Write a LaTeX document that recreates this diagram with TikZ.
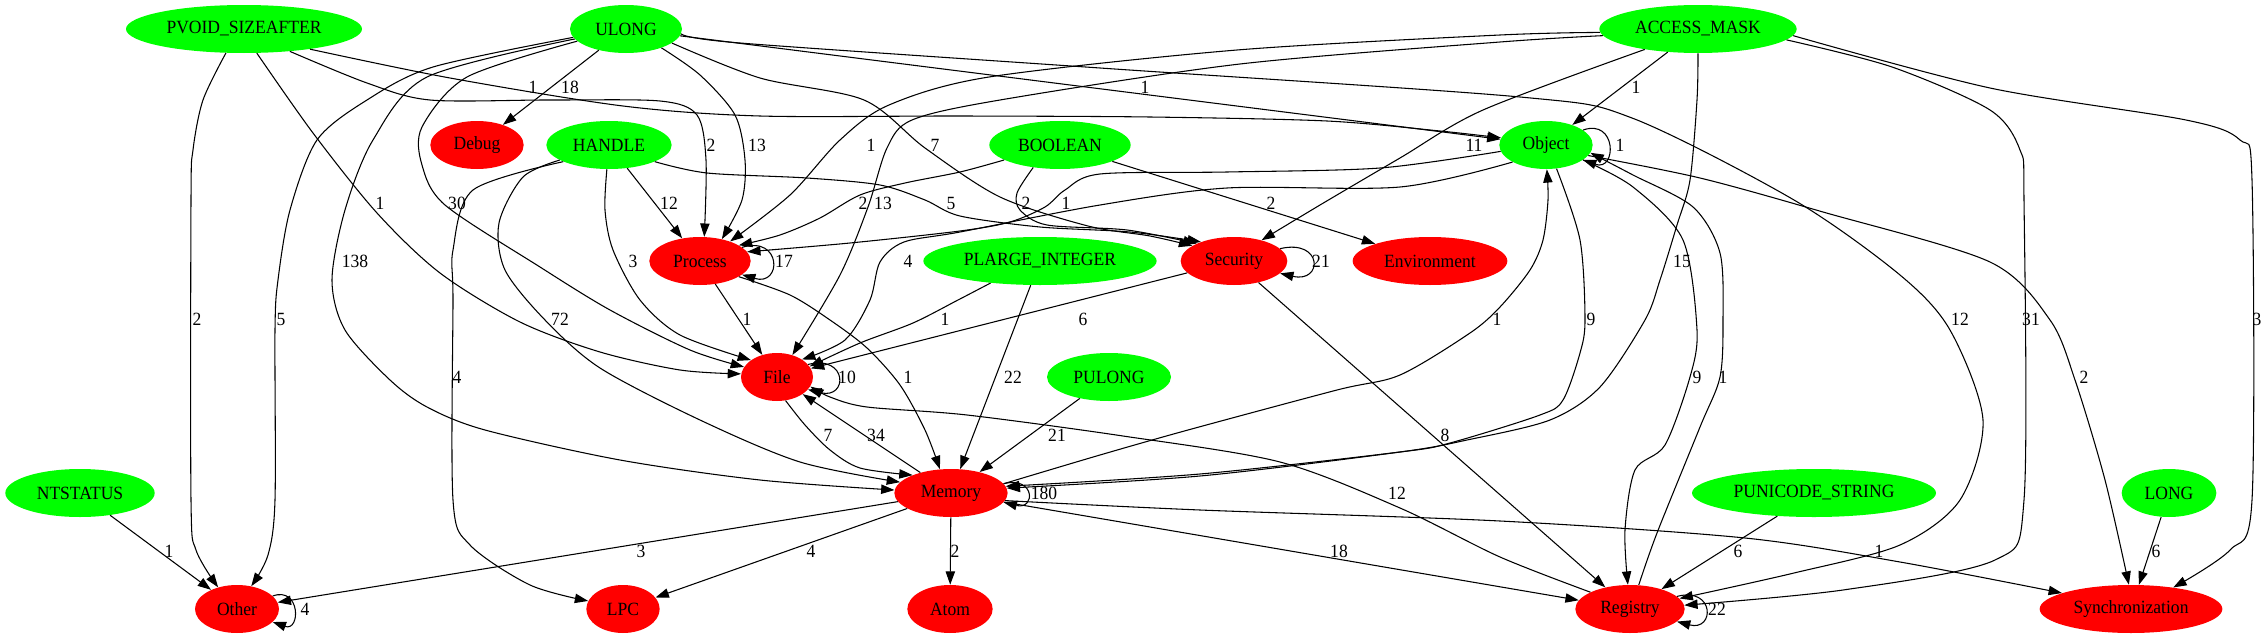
\documentclass[tikz,border=0pt]{standalone}
\usepackage{fontspec}
\setmainfont{Liberation Serif}[FakeStretch=0.94]
\usetikzlibrary{shapes.geometric, arrows.meta}

\begin{document}
\begin{tikzpicture}[x=0.75pt, y=-0.75pt,
    every node/.style={font=\fontsize{14}{16}\selectfont},
    typ/.style={ellipse, fill=green, inner sep=0pt, minimum height=36pt},
    cat/.style={ellipse, fill=red, inner sep=0pt, minimum height=36pt},
    link/.style={-{Triangle[length=10pt,width=7pt]}, line width=0.8pt},
    lbl/.style={inner sep=1pt}]
\useasboundingbox (0,0) rectangle (2268,639);

\node[typ, minimum width=177pt] (pv) at (244,29) {PVOID\_SIZEAFTER};
\node[typ, minimum width=84pt] (ulong) at (626,29) {ULONG};
\node[typ, minimum width=148pt] (am) at (1698,29) {ACCESS\_MASK};
\node[cat, minimum width=70pt] (debug) at (477,145) {Debug};
\node[typ, minimum width=94pt] (handle) at (609,145) {HANDLE};
\node[typ, minimum width=106pt] (boolean) at (1060,145) {BOOLEAN};
\node[typ, minimum width=70pt] (obj) at (1546,145) {Object};
\node[cat, minimum width=76pt] (process) at (700,261) {Process};
\node[typ, minimum width=175pt] (pli) at (1040,261) {PLARGE\_INTEGER};
\node[cat, minimum width=80pt] (security) at (1234,261) {Security};
\node[cat, minimum width=116pt] (env) at (1430,261) {Environment};
\node[cat, minimum width=54pt] (file) at (777,377) {File};
\node[typ, minimum width=93pt] (pulong) at (1109,377) {PULONG};
\node[typ, minimum width=112pt] (ntstatus) at (80,493) {NTSTATUS};
\node[cat, minimum width=85pt] (memory) at (951,493) {Memory};
\node[typ, minimum width=183pt] (punicode) at (1814,493) {PUNICODE\_STRING};
\node[typ, minimum width=71pt] (long) at (2169,493) {LONG};
\node[cat, minimum width=63pt] (other) at (237,609) {Other};
\node[cat, minimum width=55pt] (lpc) at (623,609) {LPC};
\node[cat, minimum width=64pt] (atom) at (950,609) {Atom};
\node[cat, minimum width=82pt] (registry) at (1630,609) {Registry};
\node[cat, minimum width=137pt] (sync) at (2131,609) {Synchronization};

\draw[link] plot[smooth] coordinates {(pv.-127) (203,100) (193,150) (191,200) (191,500) (196,550) (other.131)};
\draw[link] plot[smooth] coordinates {(pv.-62) (313,133) (377,213) (440,273) (520,322) (600,352) (680,370) (file.175)};
\draw[link] plot[smooth] coordinates {(pv.-26) (367,83) (430,100) (550,100) (660,101) (697,115) (706,160) (process.80)};
\draw[link] plot[smooth] coordinates {(pv.-17) (450,78) (623,106) (760,116) (960,116) (1150,117) (1327,121) (1440,131) (obj.171)};
\draw[link] (ulong) -- (debug);
\draw[link] plot[smooth] coordinates {(ulong.-171) (433,67) (367,100) (317,140) (290,210) (278,280) (275,330) (275,500) (268,555) (other.58)};
\draw[link] plot[smooth] coordinates {(ulong.-169) (427,77) (373,140) (345,210) (332,280) (345,330) (390,380) (427,407) (485,430) (620,460) (760,480) (memory.177)};
\draw[link] plot[smooth] coordinates {(ulong.-166) (467,77) (422,127) (422,165) (445,205) (540,267) (610,310) (690,350) (file.163)};
\draw[link] plot[smooth] coordinates {(ulong.-28) (700,75) (735,115) (745,160) (742,200) (process.45)};
\draw[link] plot[smooth] coordinates {(ulong.-17) (760,78) (864,100) (925,148) (1000,197) (1088,226) (1150,236) (security.160)};
\draw[link] (ulong) -- (obj);
\draw[link] plot[smooth] coordinates {(ulong.-5) (740,43) (1100,68) (1520,97) (1632,118) (1794,200) (1900,275) (1950,330) (1983,420) (1960,500) (1900,545) (1794,573) (registry.12)};
\draw[link] (am) -- (obj);
\draw[link] plot[smooth] coordinates {(am.-178) (1500,35) (1237,50) (989,77) (889,105) (840,140) (790,195) (process.33)};
\draw[link] plot[smooth] coordinates {(am.-176) (1500,42) (1240,64) (1000,100) (912,120) (887,148) (868,207) (840,275) (file.55)};
\draw[link] plot[smooth] coordinates {(am.-159) (1483,110) (1400,158) (1320,205) (security.37)};
\draw[link] plot[smooth] coordinates {(am.-90) (1697,100) (1690,180) (1677,225) (1660,280) (1645,320) (1600,387) (1550,420) (1467,440) (1400,452) (1200,476) (memory.5)};
\draw[link] plot[smooth] coordinates {(am.-7) (1892,67) (1990,110) (2020,150) (2024,200) (2024,500) (1995,560) (1843,590) (registry.4)};
\draw[link] plot[smooth] coordinates {(am.-4) (1990,88) (2186,120) (2240,140) (2252,180) (2252,500) (2230,550) (sync.27)};
\draw[link] (handle) -- (process);
\draw[link] plot[smooth] coordinates {(handle.-95) (605,210) (613,250) (640,300) (680,335) (file.147)};
\draw[link] plot[smooth] coordinates {(handle.-163) (523,177) (499,223) (505,270) (545,320) (600,368) (700,420) (800,462) (memory.168)};
\draw[link] plot[smooth] coordinates {(handle.-160) (473,190) (453,250) (453,300) (453,500) (470,545) (530,585) (lpc.167)};
\draw[link] plot[smooth] coordinates {(handle.-20) (707,173) (807,178) (880,185) (925,200) (960,216) (1040,227) (1130,232) (security.150)};
\draw[link] plot[smooth] coordinates {(boolean.-165) (960,172) (905,183) (860,195) (820,218) (780,235) (process.22)};
\draw[link] plot[smooth] coordinates {(boolean.-140) (1017,193) (1020,210) (1047,225) (1127,230) (security.155)};
\draw[link] (boolean) -- (env);
\draw[link] (obj.22) .. controls +(34,-12) and +(34,12) .. (obj.-22);
\draw[link] plot[smooth] coordinates {(obj.-172) (1380,168) (1227,172) (1100,174) (1065,190) (1045,207) (1010,222) (960,231) (850,243) (process.11)};
\draw[link] plot[smooth] coordinates {(obj.-153) (1400,187) (1227,188) (1100,205) (960,232) (904,242) (880,262) (870,300) (845,340) (file.35)};
\draw[link] plot[smooth] coordinates {(obj.-66) (1580,240) (1585,320) (1580,353) (1563,400) (1540,415) (1450,443) (1400,452) (1200,474) (memory.7)};
\draw[link] plot[smooth] coordinates {(obj.-22) (1633,187) (1683,240) (1697,330) (1690,377) (1665,445) (1635,470) (1625,530) (registry.95)};
\draw[link] plot[smooth] coordinates {(obj.-14) (1700,178) (1823,212) (1990,262) (2050,320) (2075,380) (2105,480) (sync.95)};
\draw[link] (process.18) .. controls +(40,-12) and +(40,12) .. (process.-18);
\draw[link] (process) -- (file);
\draw[link] plot[smooth] coordinates {(process.-22) (790,295) (830,320) (867,348) (900,385) (925,430) (memory.115)};
\draw[link] (security.15) .. controls +(43,-10) and +(43,10) .. (security.-15);
\draw[link] (security) -- (file);
\draw[link] (security) -- (registry);
\draw[link] plot[smooth] coordinates {(pli.-156) (958,300) (913,323) (860,343) (file.18)};
\draw[link] (pli) -- (memory);
\draw[link] (file.22) .. controls +(40,-10) and +(40,10) .. (file.-22);
\draw[link] plot[smooth] coordinates {(file.-70) (805,425) (830,450) (860,468) (memory.155)};
\draw[link] (memory) -- (file);
\draw[link] (pulong) -- (memory);
\draw[link] (memory.10) .. controls +(32,-8) and +(32,8) .. (memory.-10);
\draw[link] plot[smooth] coordinates {(memory.10) (1100,455) (1188,430) (1337,390) (1400,375) (1470,333) (1500,307) (1530,270) (1543,240) (1548,200) (obj.-88)};
\draw[link] (memory) -- (other);
\draw[link] (memory) -- (lpc);
\draw[link] (memory) -- (atom);
\draw[link] (memory) -- (registry);
\draw[link] plot[smooth] coordinates {(memory.-8) (1200,510) (1500,521) (1745,538) (1900,562) (sync.167)};
\draw[link] plot[smooth] coordinates {(registry.157) (1500,557) (1400,508) (1280,462) (1123,436) (967,415) (867,407) (830,397) (file.-16)};
\draw[link] plot[smooth] coordinates {(registry.70) (1657,533) (1700,427) (1720,377) (1723,320) (1720,253) (1693,207) (1633,175) (obj.-10)};
\draw[link] (ntstatus) -- (other);
\draw[link] (other.20) .. controls +(28,-10) and +(28,10) .. (other.-20);
\draw[link] (punicode) -- (registry);
\draw[link] (long) -- (sync);
\draw[link] (registry.15) .. controls +(38,-10) and +(38,10) .. (registry.-15);

\node[lbl] (wpvother) at (197,319) {2};
\node[lbl] (wpvfile) at (380,203) {1};
\node[lbl] (wpvproc) at (711,145) {2};
\node[lbl] (wpvobj) at (533,87) {1};
\node[lbl] (wuldebug) at (570,87) {18};
\node[lbl] (wulother) at (281,319) {5};
\node[lbl] (wulmem) at (355,261) {138};
\node[lbl] (wulfile) at (457,203) {30};
\node[lbl] (wulproc) at (757,145) {13};
\node[lbl] (wulsec) at (935,145) {7};
\node[lbl] (wulobj) at (1145,87) {1};
\node[lbl] (wulreg) at (1960,319) {12};
\node[lbl] (wamobj) at (1636,87) {1};
\node[lbl] (wamproc) at (871,145) {1};
\node[lbl] (wamfile) at (883,203) {13};
\node[lbl] (wamsec) at (1474,145) {11};
\node[lbl] (wammem) at (1682,261) {15};
\node[lbl] (wamreg) at (2031,319) {31};
\node[lbl] (wamsync) at (2257,319) {3};
\node[lbl] (whaproc) at (669,203) {12};
\node[lbl] (whafile) at (633,261) {3};
\node[lbl] (whamem) at (560,319) {72};
\node[lbl] (whalpc) at (457,377) {4};
\node[lbl] (whasec) at (951,203) {5};
\node[lbl] (wboproc) at (863,203) {2};
\node[lbl] (wbosec) at (1026,203) {2};
\node[lbl] (wboenv) at (1271,203) {2};
\node[lbl] (wobjobj) at (1620,145) {1};
\node[lbl] (wobjproc) at (1066,203) {1};
\node[lbl] (wobjfile) at (908,261) {4};
\node[lbl] (wobjmem) at (1591,319) {9};
\node[lbl] (wobjreg) at (1697,377) {9};
\node[lbl] (wobjsync) at (2084,377) {2};
\node[lbl] (wprocproc) at (784,261) {17};
\node[lbl] (wprocfile) at (747,319) {1};
\node[lbl] (wprocmem) at (908,377) {1};
\node[lbl] (wsecsec) at (1321,261) {21};
\node[lbl] (wsecfile) at (1083,319) {6};
\node[lbl] (wsecreg) at (1445,435) {8};
\node[lbl] (wplifile) at (945,319) {1};
\node[lbl] (wplimem) at (1013,377) {22};
\node[lbl] (wfilefile) at (847,377) {10};
\node[lbl] (wfilemem) at (828,435) {7};
\node[lbl] (wmemfile) at (876,435) {34};
\node[lbl] (wpulmem) at (1057,435) {21};
\node[lbl] (wmemmem) at (1044,493) {180};
\node[lbl] (wmemobj) at (1497,319) {1};
\node[lbl] (wmemother) at (641,551) {3};
\node[lbl] (wmemlpc) at (811,551) {4};
\node[lbl] (wmematom) at (955,551) {2};
\node[lbl] (wmemreg) at (1339,551) {18};
\node[lbl] (wmemsync) at (1879,551) {1};
\node[lbl] (wregfile) at (1397,493) {12};
\node[lbl] (wregobj) at (1723,377) {1};
\node[lbl] (wntother) at (169,551) {1};
\node[lbl] (wotherother) at (305,609) {4};
\node[lbl] (wunireg) at (1738,551) {6};
\node[lbl] (wlongsync) at (2156,551) {6};
\node[lbl] (wregreg) at (1717,609) {22};
\end{tikzpicture}
\end{document}
